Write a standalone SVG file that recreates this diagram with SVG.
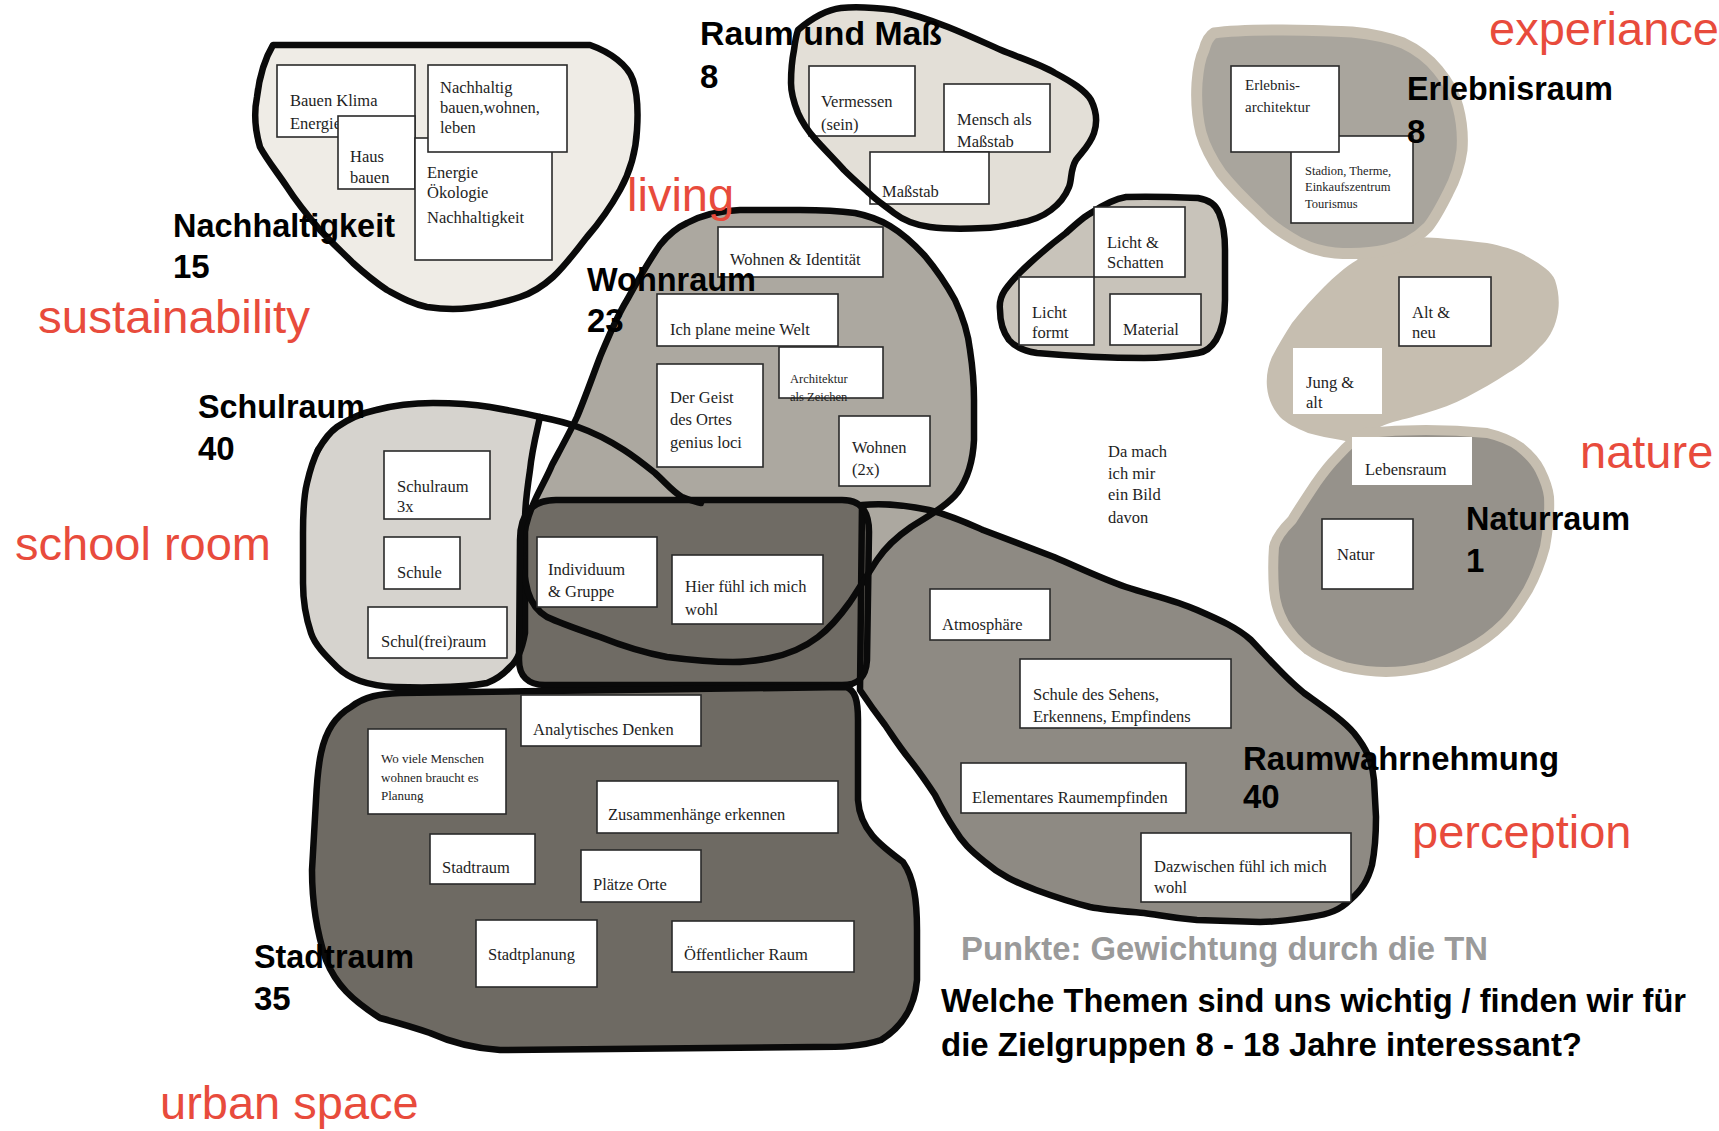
<svg xmlns="http://www.w3.org/2000/svg" width="1719" height="1131" viewBox="0 0 1719 1131">
<defs>
<style>
.ol{fill:none;stroke:#0a0a0a;stroke-width:6.5;stroke-linejoin:round;stroke-linecap:round}
.box{fill:#fff;stroke:#2a2a2a;stroke-width:1.6}
.nb{fill:#fff;stroke:none}
.t{font-family:"Liberation Serif","Times New Roman",serif;font-size:16.5px;fill:#1e1e1e}
.ts{font-size:12.5px}
.lbl{font-family:"Liberation Sans",Arial,sans-serif;font-weight:bold;font-size:33px;fill:#000}
.red{font-family:"Liberation Sans",Arial,sans-serif;font-size:47px;fill:#e84b3c}
.note{font-family:"Liberation Sans",Arial,sans-serif;font-weight:bold;font-size:33px;fill:#000}
</style>
</defs>
<rect width="1719" height="1131" fill="#fff"/>

<g id="region-fills">
<path fill="#efece6" d="M 273,45 L 590,45 C 610,52 628,65 633,80 C 638,95 638,115 637,130 C 636,150 630,172 620,190 C 610,208 600,222 587,237 C 575,252 565,266 553,277 C 542,287 532,293 520,297 C 505,302 488,306 470,308 C 455,310 440,309 427,307 C 412,304 400,297 387,290 C 375,282 364,273 353,263 C 342,252 330,241 320,230 C 308,216 296,201 287,187 C 277,172 267,160 260,147 C 255,130 254,112 257,97 C 259,80 264,60 273,45 Z"/>
<path fill="#e3dfd7" d="M 798,30 C 812,18 825,10 841,8 C 860,6 878,8 894,10 C 912,14 930,20 948,27 C 968,35 985,43 1001,50 C 1020,58 1040,64 1055,73 C 1072,82 1085,90 1091,100 C 1097,112 1097,124 1094,133 C 1090,145 1082,152 1076,160 C 1070,170 1072,180 1069,187 C 1065,197 1059,204 1051,210 C 1042,217 1030,221 1019,223 C 1005,226 995,228 984,228 C 965,229 945,229 930,227 C 915,225 903,220 894,213 C 885,206 876,200 869,193 C 860,185 852,178 844,170 C 835,160 825,150 816,140 C 808,131 802,122 798,113 C 794,103 791,93 791,83 C 791,70 792,60 794,50 C 795,42 796,36 798,30 Z"/>
<path fill="#c8c3ba" d="M 1066,233 C 1078,222 1085,216 1091,213 C 1103,205 1114,199 1126,197 C 1150,196 1175,197 1198,198 C 1210,200 1216,205 1219,213 C 1224,225 1225,238 1225,250 L 1225,300 C 1225,318 1222,330 1216,340 C 1211,348 1205,352 1198,353 C 1180,356 1162,358 1144,358 C 1110,358 1070,356 1037,353 C 1025,351 1015,347 1009,340 C 1003,332 1000,320 1000,310 C 999,302 1001,296 1005,290 C 1012,280 1020,272 1030,263 C 1042,252 1054,242 1066,233 Z"/>
<path fill="#c6beb0" d="M 1365,250 C 1378,242 1392,237 1406,237 C 1435,237 1462,240 1487,243 C 1502,246 1517,250 1528,257 C 1542,265 1552,272 1555,280 C 1559,292 1560,305 1557,317 C 1554,330 1548,340 1540,347 C 1530,358 1520,366 1508,373 C 1495,382 1480,390 1467,397 C 1453,404 1440,409 1426,413 C 1413,417 1400,420 1390,423 C 1382,426 1377,428 1373,430 C 1369,434 1367,438 1365,443 C 1357,443 1348,442 1341,440 C 1330,438 1318,436 1308,433 C 1296,428 1286,423 1280,417 C 1272,408 1268,398 1267,387 C 1266,376 1268,366 1272,357 C 1278,345 1285,334 1292,323 C 1302,310 1313,298 1324,287 C 1334,277 1345,267 1357,260 C 1360,256 1362,253 1365,250 Z"/>
<path fill="#a9a59d" stroke="#c6beb0" stroke-width="11" stroke-linejoin="round" d="M 1214,33 C 1235,30 1260,30 1283,30 C 1305,30 1330,31 1352,32 C 1372,34 1390,38 1403,43 C 1418,50 1430,60 1438,70 C 1448,82 1455,95 1458,107 C 1462,122 1463,136 1462,150 C 1460,165 1455,180 1448,193 C 1442,205 1436,217 1428,227 C 1415,240 1400,247 1386,250 C 1368,254 1350,254 1335,253 C 1322,252 1310,248 1300,243 C 1285,235 1270,225 1259,213 C 1245,200 1232,187 1221,173 C 1212,160 1205,147 1201,133 C 1197,117 1196,100 1197,83 C 1198,70 1200,58 1204,50 C 1206,42 1209,36 1214,33 Z"/>
<path fill="#96928b" stroke="#c6beb0" stroke-width="10" stroke-linejoin="round" d="M 1365,433 C 1385,431 1405,430 1426,430 C 1447,430 1467,431 1487,433 C 1500,436 1512,441 1520,447 C 1530,455 1536,462 1540,470 C 1545,480 1548,488 1549,497 C 1550,515 1548,530 1545,547 C 1541,562 1535,577 1528,590 C 1520,603 1513,614 1504,623 C 1493,634 1481,643 1467,650 C 1454,657 1440,663 1426,667 C 1413,670 1400,672 1386,672 C 1372,672 1358,670 1345,667 C 1332,663 1318,657 1308,650 C 1298,642 1290,633 1284,623 C 1278,612 1275,601 1274,590 C 1273,575 1273,560 1274,547 C 1276,537 1284,528 1292,520 C 1300,507 1308,495 1316,483 C 1323,473 1330,464 1337,457 C 1345,448 1355,438 1365,433 Z"/>
<path fill="#d6d3ce" d="M 318,450 C 325,438 330,432 337,427 C 350,418 362,413 376,410 C 395,405 415,403 433,403 C 455,403 472,404 490,407 C 507,410 523,413 540,417 C 536,435 532,450 530,470 C 527,490 525,505 525,520 L 525,633 C 522,650 516,662 510,667 C 502,676 495,680 487,683 C 460,688 430,688 395,687 C 370,686 350,680 337,667 C 325,655 315,645 311,633 C 305,615 303,600 303,583 L 303,533 C 303,510 304,495 307,483 C 310,470 313,460 318,450 Z"/>
<path fill="#8e8a83" d="M 862,505 C 880,503 905,505 929,510 C 950,515 965,522 983,530 L 1054,557 C 1080,568 1100,578 1126,587 C 1150,595 1175,600 1197,610 C 1220,620 1238,628 1251,640 C 1270,660 1285,678 1304,693 C 1325,708 1343,720 1354,733 C 1366,748 1372,760 1374,780 L 1376,817 C 1376,840 1374,855 1372,865 C 1368,880 1362,890 1350,900 C 1340,910 1330,914 1310,917 C 1290,920 1280,922 1260,922 L 1197,920 C 1170,918 1160,915 1144,913 C 1120,911 1105,910 1090,907 C 1070,902 1055,897 1036,890 C 1015,882 1000,875 985,862 C 970,850 962,842 955,830 C 945,815 940,805 935,795 C 925,780 918,770 910,760 C 898,745 892,735 885,725 C 875,712 868,702 860,690 L 862,505 Z"/>
<path fill="#aca8a0" d="M 687,223 C 700,216 715,211 740,210 L 800,210 C 825,210 840,211 855,213 C 870,216 880,220 890,226 C 905,235 915,245 925,256 C 935,268 945,282 955,300 C 962,315 968,332 970,350 C 973,370 974,385 974,400 L 974,440 C 973,460 968,478 958,492 C 948,505 930,515 911,527 C 895,538 885,548 877,560 C 866,577 858,590 850,602 C 840,616 830,628 818,637 C 805,647 790,654 770,658 C 755,661 745,662 733,662 C 710,662 690,660 667,657 C 640,652 620,645 600,637 C 580,630 562,624 547,617 C 537,611 531,602 528,592 C 524,577 522,560 523,545 C 524,530 528,515 535,500 C 542,485 548,475 552,465 C 560,450 570,432 577,417 C 585,398 592,378 600,357 C 608,338 616,318 627,300 C 637,282 648,262 660,245 C 668,235 676,228 687,223 Z"/>
<path fill="#6f6b64" d="M 556,500 L 842,500 C 862,500 869,512 869,532 L 867,660 C 866,678 858,685 842,685 L 545,685 C 528,685 519,676 519,660 L 520,540 C 520,514 532,500 556,500 Z"/>
<path fill="#6e6a63" d="M 351,707 C 365,696 380,694 400,693 L 846,687 C 855,690 858,700 858,720 L 858,800 C 860,830 880,845 903,862 C 914,878 917,900 917,930 L 917,980 C 915,1005 905,1025 881,1040 C 860,1047 840,1047 814,1047 L 500,1050 C 470,1048 450,1042 430,1033 C 410,1026 395,1022 380,1018 C 352,1000 336,985 326,960 C 316,930 312,900 312,870 L 316,800 C 318,760 322,740 332,725 C 338,716 344,711 351,707 Z"/>
</g>

<g id="raum-und-mass">
<rect class="box" x="809" y="66" width="106" height="70"/>
<text class="t" x="821" y="107">Vermessen</text>
<text class="t" x="821" y="130">(sein)</text>
<rect class="box" x="944" y="84" width="106" height="68"/>
<text class="t" x="957" y="125">Mensch als</text>
<text class="t" x="957" y="147">Maßstab</text>
<rect class="box" x="870" y="152" width="119" height="52"/>
<text class="t" x="882" y="197">Maßstab</text>
</g>

<g id="region-outlines">
<path class="ol" d="M 273,45 L 590,45 C 610,52 628,65 633,80 C 638,95 638,115 637,130 C 636,150 630,172 620,190 C 610,208 600,222 587,237 C 575,252 565,266 553,277 C 542,287 532,293 520,297 C 505,302 488,306 470,308 C 455,310 440,309 427,307 C 412,304 400,297 387,290 C 375,282 364,273 353,263 C 342,252 330,241 320,230 C 308,216 296,201 287,187 C 277,172 267,160 260,147 C 255,130 254,112 257,97 C 259,80 264,60 273,45 Z"/>
<path class="ol" d="M 798,30 C 812,18 825,10 841,8 C 860,6 878,8 894,10 C 912,14 930,20 948,27 C 968,35 985,43 1001,50 C 1020,58 1040,64 1055,73 C 1072,82 1085,90 1091,100 C 1097,112 1097,124 1094,133 C 1090,145 1082,152 1076,160 C 1070,170 1072,180 1069,187 C 1065,197 1059,204 1051,210 C 1042,217 1030,221 1019,223 C 1005,226 995,228 984,228 C 965,229 945,229 930,227 C 915,225 903,220 894,213 C 885,206 876,200 869,193 C 860,185 852,178 844,170 C 835,160 825,150 816,140 C 808,131 802,122 798,113 C 794,103 791,93 791,83 C 791,70 792,60 794,50 C 795,42 796,36 798,30 Z"/>
<path class="ol" d="M 1066,233 C 1078,222 1085,216 1091,213 C 1103,205 1114,199 1126,197 C 1150,196 1175,197 1198,198 C 1210,200 1216,205 1219,213 C 1224,225 1225,238 1225,250 L 1225,300 C 1225,318 1222,330 1216,340 C 1211,348 1205,352 1198,353 C 1180,356 1162,358 1144,358 C 1110,358 1070,356 1037,353 C 1025,351 1015,347 1009,340 C 1003,332 1000,320 1000,310 C 999,302 1001,296 1005,290 C 1012,280 1020,272 1030,263 C 1042,252 1054,242 1066,233 Z"/>
<path class="ol" d="M 318,450 C 325,438 330,432 337,427 C 350,418 362,413 376,410 C 395,405 415,403 433,403 C 455,403 472,404 490,407 C 507,410 523,413 540,417 C 560,421 570,424 578,427 C 595,433 610,441 624,450 C 635,457 645,465 655,473 C 665,482 673,492 682,497 C 690,500 695,502 701,503"/>
<path class="ol" d="M 540,417 C 536,435 532,450 530,470 C 527,490 525,505 525,520 L 525,633 C 522,650 516,662 510,667 C 502,676 495,680 487,683 C 460,688 430,688 395,687 C 370,686 350,680 337,667 C 325,655 315,645 311,633 C 305,615 303,600 303,583 L 303,533 C 303,510 304,495 307,483 C 310,470 313,460 318,450"/>
<path class="ol" d="M 862,505 C 880,503 905,505 929,510 C 950,515 965,522 983,530 L 1054,557 C 1080,568 1100,578 1126,587 C 1150,595 1175,600 1197,610 C 1220,620 1238,628 1251,640 C 1270,660 1285,678 1304,693 C 1325,708 1343,720 1354,733 C 1366,748 1372,760 1374,780 L 1376,817 C 1376,840 1374,855 1372,865 C 1368,880 1362,890 1350,900 C 1340,910 1330,914 1310,917 C 1290,920 1280,922 1260,922 L 1197,920 C 1170,918 1160,915 1144,913 C 1120,911 1105,910 1090,907 C 1070,902 1055,897 1036,890 C 1015,882 1000,875 985,862 C 970,850 962,842 955,830 C 945,815 940,805 935,795 C 925,780 918,770 910,760 C 898,745 892,735 885,725 C 875,712 868,702 860,690 L 862,505"/>
<path class="ol" d="M 687,223 C 700,216 715,211 740,210 L 800,210 C 825,210 840,211 855,213 C 870,216 880,220 890,226 C 905,235 915,245 925,256 C 935,268 945,282 955,300 C 962,315 968,332 970,350 C 973,370 974,385 974,400 L 974,440 C 973,460 968,478 958,492 C 948,505 930,515 911,527 C 895,538 885,548 877,560 C 866,577 858,590 850,602 C 840,616 830,628 818,637 C 805,647 790,654 770,658 C 755,661 745,662 733,662 C 710,662 690,660 667,657 C 640,652 620,645 600,637 C 580,630 562,624 547,617 C 537,611 531,602 528,592 C 524,577 522,560 523,545 C 524,530 528,515 535,500 C 542,485 548,475 552,465 C 560,450 570,432 577,417 C 585,398 592,378 600,357 C 608,338 616,318 627,300 C 637,282 648,262 660,245 C 668,235 676,228 687,223 Z"/>
<path class="ol" d="M 556,500 L 842,500 C 862,500 869,512 869,532 L 867,660 C 866,678 858,685 842,685 L 545,685 C 528,685 519,676 519,660 L 520,540 C 520,514 532,500 556,500 Z"/>
<path class="ol" d="M 351,707 C 365,696 380,694 400,693 L 846,687 C 855,690 858,700 858,720 L 858,800 C 860,830 880,845 903,862 C 914,878 917,900 917,930 L 917,980 C 915,1005 905,1025 881,1040 C 860,1047 840,1047 814,1047 L 500,1050 C 470,1048 450,1042 430,1033 C 410,1026 395,1022 380,1018 C 352,1000 336,985 326,960 C 316,930 312,900 312,870 L 316,800 C 318,760 322,740 332,725 C 338,716 344,711 351,707 Z"/>
</g>

<g id="nachhaltigkeit">
<rect class="box" x="277" y="65" width="138" height="72"/>
<text class="t" x="290" y="106">Bauen Klima</text>
<text class="t" x="290" y="129">Energie</text>
<rect class="box" x="338" y="116" width="77" height="73"/>
<text class="t" x="350" y="162">Haus</text>
<text class="t" x="350" y="183">bauen</text>
<rect class="box" x="415" y="138" width="137" height="122"/>
<text class="t" x="427" y="178">Energie</text>
<text class="t" x="427" y="198">Ökologie</text>
<text class="t" x="427" y="223">Nachhaltigkeit</text>
<rect class="box" x="428" y="65" width="139" height="87"/>
<text class="t" x="440" y="93">Nachhaltig</text>
<text class="t" x="440" y="113">bauen,wohnen,</text>
<text class="t" x="440" y="133">leben</text>
</g>

<g id="licht">
<rect class="box" x="1094" y="207" width="91" height="70"/>
<text class="t" x="1107" y="248">Licht &amp;</text>
<text class="t" x="1107" y="268">Schatten</text>
<rect class="box" x="1019" y="277" width="75" height="68"/>
<text class="t" x="1032" y="318">Licht</text>
<text class="t" x="1032" y="338">formt</text>
<rect class="box" x="1110" y="294" width="91" height="51"/>
<text class="t" x="1123" y="335">Material</text>
</g>

<g id="erlebnisraum">
<rect class="box" x="1291" y="136" width="122" height="87"/>
<text class="t ts" x="1305" y="175">Stadion, Therme,</text>
<text class="t ts" x="1305" y="191">Einkaufszentrum</text>
<text class="t ts" x="1305" y="208">Tourismus</text>
<rect class="box" x="1231" y="66" width="108" height="86"/>
<text class="t" x="1245" y="90" style="font-size:15px">Erlebnis-</text>
<text class="t" x="1245" y="112" style="font-size:15px">architektur</text>
</g>

<g id="alt-jung">
<rect class="box" x="1399" y="277" width="92" height="69"/>
<text class="t" x="1412" y="318">Alt &amp;</text>
<text class="t" x="1412" y="338">neu</text>
<rect class="nb" x="1293" y="348" width="89" height="66"/>
<text class="t" x="1306" y="388">Jung &amp;</text>
<text class="t" x="1306" y="408">alt</text>
</g>

<g id="naturraum">
<rect class="nb" x="1352" y="437" width="120" height="48"/>
<text class="t" x="1365" y="475">Lebensraum</text>
<rect class="box" x="1322" y="519" width="91" height="70"/>
<text class="t" x="1337" y="560">Natur</text>
</g>

<g id="bild">
<text class="t" x="1108" y="457">Da mach</text>
<text class="t" x="1108" y="479">ich mir</text>
<text class="t" x="1108" y="500">ein Bild</text>
<text class="t" x="1108" y="523">davon</text>
</g>

<g id="wohnraum">
<rect class="box" x="718" y="227" width="165" height="50"/>
<text class="t" x="730" y="265">Wohnen &amp; Identität</text>
<rect class="box" x="657" y="294" width="181" height="52"/>
<text class="t" x="670" y="335">Ich plane meine Welt</text>
<rect class="box" x="779" y="347" width="104" height="51"/>
<text class="t ts" x="790" y="383">Architektur</text>
<text class="t ts" x="790" y="401">als Zeichen</text>
<rect class="box" x="657" y="364" width="106" height="103"/>
<text class="t" x="670" y="403">Der Geist</text>
<text class="t" x="670" y="425">des Ortes</text>
<text class="t" x="670" y="448">genius loci</text>
<rect class="box" x="839" y="416" width="91" height="70"/>
<text class="t" x="852" y="453">Wohnen</text>
<text class="t" x="852" y="475">(2x)</text>
</g>

<g id="schulraum">
<rect class="box" x="384" y="451" width="106" height="68"/>
<text class="t" x="397" y="492">Schulraum</text>
<text class="t" x="397" y="512">3x</text>
<rect class="box" x="384" y="537" width="76" height="52"/>
<text class="t" x="397" y="578">Schule</text>
<rect class="box" x="368" y="607" width="139" height="51"/>
<text class="t" x="381" y="647">Schul(frei)raum</text>
</g>

<g id="individuum">
<rect class="box" x="537" y="537" width="120" height="70"/>
<text class="t" x="548" y="575">Individuum</text>
<text class="t" x="548" y="597">&amp; Gruppe</text>
<rect class="box" x="672" y="555" width="151" height="69"/>
<text class="t" x="685" y="592">Hier fühl ich mich</text>
<text class="t" x="685" y="615">wohl</text>
</g>

<g id="raumwahrnehmung">
<rect class="box" x="930" y="589" width="120" height="51"/>
<text class="t" x="942" y="630">Atmosphäre</text>
<rect class="box" x="1020" y="659" width="211" height="69"/>
<text class="t" x="1033" y="700">Schule des Sehens,</text>
<text class="t" x="1033" y="722">Erkennens, Empfindens</text>
<rect class="box" x="961" y="763" width="225" height="50"/>
<text class="t" x="972" y="803">Elementares Raumempfinden</text>
<rect class="box" x="1141" y="833" width="210" height="69"/>
<text class="t" x="1154" y="872">Dazwischen fühl ich mich</text>
<text class="t" x="1154" y="893">wohl</text>
</g>

<g id="stadtraum">
<rect class="box" x="521" y="695" width="180" height="51"/>
<text class="t" x="533" y="735">Analytisches Denken</text>
<rect class="box" x="368" y="729" width="138" height="85"/>
<text class="t" x="381" y="763" style="font-size:13px">Wo viele Menschen</text>
<text class="t" x="381" y="782" style="font-size:13px">wohnen braucht es</text>
<text class="t" x="381" y="800" style="font-size:13px">Planung</text>
<rect class="box" x="597" y="781" width="241" height="52"/>
<text class="t" x="608" y="820">Zusammenhänge erkennen</text>
<rect class="box" x="430" y="834" width="105" height="50"/>
<text class="t" x="442" y="873">Stadtraum</text>
<rect class="box" x="581" y="850" width="120" height="52"/>
<text class="t" x="593" y="890">Plätze Orte</text>
<rect class="box" x="476" y="920" width="121" height="67"/>
<text class="t" x="488" y="960">Stadtplanung</text>
<rect class="box" x="672" y="921" width="182" height="51"/>
<text class="t" x="684" y="960">Öffentlicher Raum</text>
</g>

<g id="labels">
<text class="lbl" x="700" y="45" textLength="242" lengthAdjust="spacingAndGlyphs">Raum und Maß</text>
<text class="lbl" x="700" y="88">8</text>
<text class="lbl" x="173" y="237" textLength="222" lengthAdjust="spacingAndGlyphs">Nachhaltigkeit</text>
<text class="lbl" x="173" y="278">15</text>
<text class="lbl" x="1407" y="100" textLength="206" lengthAdjust="spacingAndGlyphs">Erlebnisraum</text>
<text class="lbl" x="1407" y="143">8</text>
<text class="lbl" x="587" y="291" textLength="169" lengthAdjust="spacingAndGlyphs">Wohnraum</text>
<text class="lbl" x="587" y="332">23</text>
<text class="lbl" x="198" y="418" textLength="167" lengthAdjust="spacingAndGlyphs">Schulraum</text>
<text class="lbl" x="198" y="460">40</text>
<text class="lbl" x="1466" y="530" textLength="164" lengthAdjust="spacingAndGlyphs">Naturraum</text>
<text class="lbl" x="1466" y="572">1</text>
<text class="lbl" x="1243" y="770" textLength="316" lengthAdjust="spacingAndGlyphs">Raumwahrnehmung</text>
<text class="lbl" x="1243" y="808">40</text>
<text class="lbl" x="254" y="968" textLength="160" lengthAdjust="spacingAndGlyphs">Stadtraum</text>
<text class="lbl" x="254" y="1010">35</text>
</g>

<g id="translations">
<text class="red" x="1489" y="45">experiance</text>
<text class="red" x="627" y="211">living</text>
<text class="red" x="38" y="333" textLength="272" lengthAdjust="spacingAndGlyphs">sustainability</text>
<text class="red" x="15" y="560">school room</text>
<text class="red" x="1580" y="468">nature</text>
<text class="red" x="1412" y="848">perception</text>
<text class="red" x="160" y="1119">urban space</text>
</g>

<g id="caption">
<text class="note" x="961" y="960" style="fill:#9a9a9a" textLength="527" lengthAdjust="spacingAndGlyphs">Punkte: Gewichtung durch die TN</text>
<text class="note" x="941" y="1012" textLength="745" lengthAdjust="spacingAndGlyphs">Welche Themen sind uns wichtig / finden wir für</text>
<text class="note" x="941" y="1056" textLength="641" lengthAdjust="spacingAndGlyphs">die Zielgruppen 8 - 18 Jahre interessant?</text>
</g>
</svg>
